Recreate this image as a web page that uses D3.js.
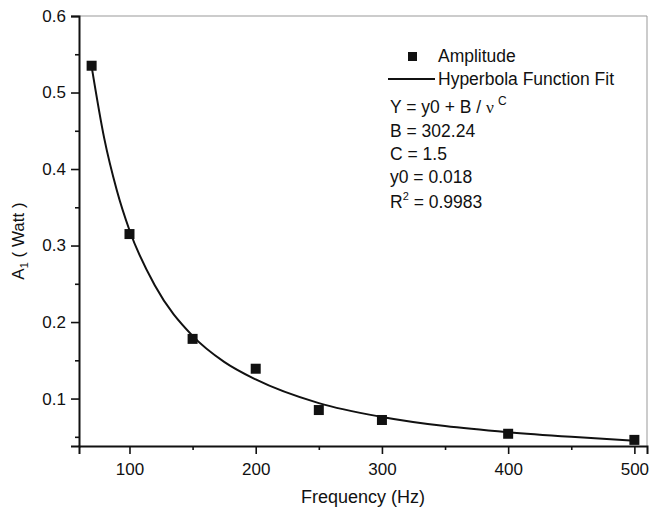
<!DOCTYPE html>
<html>
<head>
<meta charset="utf-8">
<script src="https://cdn.jsdelivr.net/npm/d3@7"></script>
<style>
  body { margin: 0; background: #fff; }
  text { font-family: "Liberation Sans", Arial, sans-serif; fill: #111; }
</style>
</head>
<body>
<div id="chart"></div>
<script>
// measured points (Amplitude)
var freq = [70, 100, 150, 200, 250, 300, 400, 500];
var amplitude = [0.535, 0.315, 0.178, 0.139, 0.085, 0.072, 0.054, 0.046];

// fit curve
var fitFreq = [70, 80, 90, 100, 120, 150, 175, 200, 250, 300, 350, 400, 450, 500];
var fitAmp = [0.534, 0.440, 0.372, 0.320, 0.248, 0.182, 0.148, 0.125, 0.094, 0.076, 0.064, 0.056, 0.050, 0.045];

var xTicks = [100, 200, 300, 400, 500];
var xMinor = [150, 250, 350, 450];
var yTicks = [0.1, 0.2, 0.3, 0.4, 0.5, 0.6];
var yMinor = [0.05, 0.15, 0.25, 0.35, 0.45, 0.55];

var fitLines = ["B = 302.24", "C = 1.5", "y0 = 0.018"];

var width = 649;
var height = 510;
var margin = {left: 79, top: 16, right: 2, bottom: 64};

var svg = d3.select("#chart").append("svg")
  .attr("width", width)
  .attr("height", height);

var x = d3.scaleLinear()
  .domain([60, 510])
  .range([margin.left, width - margin.right]);

var y = d3.scaleLinear()
  .domain([0.038, 0.6])
  .range([height - margin.bottom, margin.top]);

var plotBottom = height - margin.bottom;

// top + right frame (thin gray)
svg.append("path")
  .attr("d", "M" + margin.left + "," + margin.top + "H" + (width - margin.right) + "V" + plotBottom)
  .attr("fill", "none")
  .attr("stroke", "#999")
  .attr("stroke-width", 1);

// x axis
svg.append("g")
  .attr("transform", "translate(0," + plotBottom + ")")
  .call(d3.axisBottom(x).tickValues(xTicks).tickSize(8).tickPadding(9).tickFormat(d3.format("d")));
svg.append("g")
  .attr("transform", "translate(0," + plotBottom + ")")
  .call(d3.axisBottom(x).tickValues(xMinor).tickSize(4).tickFormat(""))
  .select(".domain").remove();

// y axis
svg.append("g")
  .attr("transform", "translate(" + margin.left + ",0)")
  .call(d3.axisLeft(y).tickValues(yTicks).tickSize(8).tickPadding(5).tickFormat(d3.format(".1f")));
svg.append("g")
  .attr("transform", "translate(" + margin.left + ",0)")
  .call(d3.axisLeft(y).tickValues(yMinor).tickSize(4).tickFormat(""))
  .select(".domain").remove();

svg.selectAll(".domain").attr("stroke", "#111").attr("stroke-width", 2);
svg.selectAll(".tick line").attr("stroke", "#111").attr("stroke-width", 1.6);
svg.selectAll(".tick text").style("font-size", "17px").attr("fill", "#111");

// axis titles
svg.append("text")
  .attr("x", (margin.left + width - margin.right) / 2)
  .attr("y", 503)
  .attr("text-anchor", "middle")
  .style("font-size", "18px")
  .text("Frequency (Hz)");

var yTitle = svg.append("text")
  .attr("transform", "translate(24,241) rotate(-90)")
  .attr("text-anchor", "middle")
  .style("font-size", "17px");
yTitle.append("tspan").text("A");
yTitle.append("tspan").attr("dy", 4).style("font-size", "11px").text("1");
yTitle.append("tspan").attr("dy", -4).text(" ( Watt )");

// fit line
var line = d3.line()
  .x(function(d, i) { return x(fitFreq[i]); })
  .y(function(d) { return y(d); })
  .curve(d3.curveMonotoneX);

svg.append("path")
  .datum(fitAmp)
  .attr("d", line)
  .attr("fill", "none")
  .attr("stroke", "#111")
  .attr("stroke-width", 2);

// data points
var sq = 10;
svg.selectAll(".pt")
  .data(amplitude)
  .enter().append("rect")
  .attr("class", "pt")
  .attr("x", function(d, i) { return x(freq[i]) - sq / 2; })
  .attr("y", function(d) { return y(d) - sq / 2; })
  .attr("width", sq)
  .attr("height", sq)
  .attr("fill", "#111");

// legend
var leg = svg.append("g");
leg.append("rect")
  .attr("x", 408).attr("y", 52).attr("width", 9).attr("height", 9)
  .attr("fill", "#111");
leg.append("text").attr("x", 438).attr("y", 62).style("font-size", "17.5px").text("Amplitude");
leg.append("line")
  .attr("x1", 388).attr("x2", 435).attr("y1", 79).attr("y2", 79)
  .attr("stroke", "#111").attr("stroke-width", 2);
leg.append("text").attr("x", 438).attr("y", 85).style("font-size", "17.5px").text("Hyperbola Function Fit");

var eq = leg.append("text").attr("x", 390).attr("y", 113).style("font-size", "17.5px");
eq.append("tspan").text("Y = y0 + B / ");
eq.append("tspan").style("font-family", "'Liberation Serif', 'DejaVu Serif', serif").text("\u03bd");
eq.append("tspan").attr("dx", 4).attr("dy", -8).style("font-size", "12px").text("C");

leg.selectAll(".fitline")
  .data(fitLines)
  .enter().append("text")
  .attr("class", "fitline")
  .attr("x", 390)
  .attr("y", function(d, i) { return 137 + i * 23; })
  .style("font-size", "17.5px")
  .text(function(d) { return d; });

var r2 = leg.append("text").attr("x", 390).attr("y", 208).style("font-size", "17.5px");
r2.append("tspan").text("R");
r2.append("tspan").attr("dy", -8).style("font-size", "11px").text("2");
r2.append("tspan").attr("dy", 8).text(" = 0.9983");
</script>
</body>
</html>
